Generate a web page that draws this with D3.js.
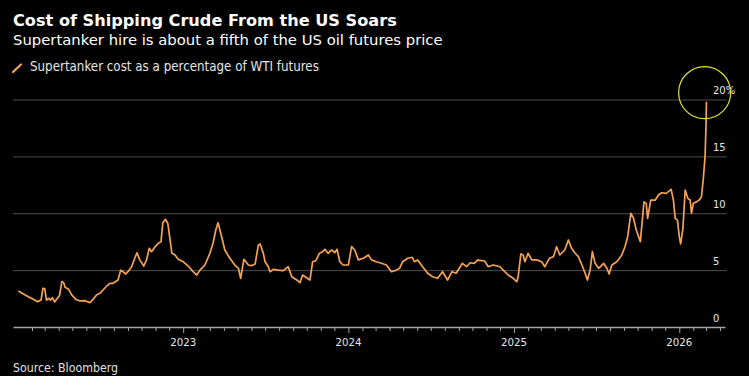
<!DOCTYPE html>
<html><head><meta charset="utf-8">
<script src="https://cdn.jsdelivr.net/npm/d3@7"></script>
<style>html,body{margin:0;padding:0;background:#000;overflow:hidden}</style>
</head><body>
<svg id="chart" width="749" height="376"></svg>
<script>
// ---- Data ----
const series2022 = [["2022-01-02",3.16],["2022-01-13",2.9],["2022-01-24",2.66],["2022-02-04",2.43],["2022-02-13",2.23],["2022-02-21",2.37],["2022-02-25",3.4],["2022-03-01",3.37],["2022-03-05",2.37],["2022-03-10",2.52],["2022-03-14",2.37],["2022-03-18",2.58],["2022-03-23",2.2],["2022-03-29",2.52],["2022-04-03",2.8],["2022-04-08",4.0],["2022-04-12",3.9],["2022-04-15",3.5],["2022-04-23",3.31],["2022-04-30",2.8],["2022-05-09",2.43],["2022-05-18",2.29],["2022-05-29",2.31],["2022-06-09",2.14],["2022-06-16",2.43],["2022-06-24",2.84],["2022-07-01",2.96],["2022-07-08",3.25],["2022-07-16",3.6],["2022-07-23",3.84],["2022-07-30",3.84],["2022-08-10",4.13],["2022-08-16",5.0],["2022-08-21",4.86],["2022-08-27",4.66],["2022-09-01",4.86],["2022-09-09",5.3],["2022-09-16",6.04],["2022-09-21",6.53],["2022-09-27",5.9],["2022-10-06",5.36],["2022-10-12",5.9],["2022-10-18",6.92],["2022-10-23",6.62],["2022-10-31",7.06],["2022-11-07",7.36],["2022-11-13",7.5],["2022-11-17",9.17],["2022-11-23",9.47],["2022-11-28",9.1],["2022-12-03",7.65],["2022-12-07",6.48],["2022-12-14",6.33],["2022-12-21",5.95]];
const series2023 = [["2023-01-01",5.74],["2023-01-12",5.36],["2023-01-23",4.86],["2023-01-31",4.57],["2023-02-07",5.0],["2023-02-18",5.45],["2023-03-01",6.48],["2023-03-08",7.36],["2023-03-14",8.53],["2023-03-19",9.17],["2023-03-27",7.94],["2023-04-03",6.77],["2023-04-14",6.04],["2023-04-25",5.45],["2023-05-03",5.16],["2023-05-08",4.28],["2023-05-15",5.95],["2023-05-25",5.45],["2023-06-01",5.39],["2023-06-09",5.54],["2023-06-16",7.2],["2023-06-20",7.3],["2023-06-27",6.48],["2023-07-01",5.74],["2023-07-08",5.3],["2023-07-12",4.86],["2023-07-19",5.07],["2023-07-30",5.0],["2023-08-10",4.95],["2023-08-21",5.3],["2023-08-29",4.42],["2023-09-09",4.13],["2023-09-16",3.9],["2023-09-22",4.57],["2023-09-29",4.37],["2023-10-08",4.13],["2023-10-14",5.74],["2023-10-21",5.83],["2023-10-29",6.48],["2023-11-05",6.62],["2023-11-10",6.83],["2023-11-17",6.48],["2023-11-25",6.77],["2023-12-02",6.53],["2023-12-07",6.83],["2023-12-13",5.74],["2023-12-20",5.45]];
const series2024 = [["2024-01-01",5.45],["2024-01-08",7.06],["2024-01-15",6.77],["2024-01-23",5.9],["2024-02-03",6.04],["2024-02-14",6.33],["2024-02-21",5.9],["2024-03-03",5.74],["2024-03-14",5.6],["2024-03-25",5.45],["2024-04-05",4.86],["2024-04-16",5.0],["2024-04-23",5.16],["2024-04-30",5.74],["2024-05-11",6.04],["2024-05-21",6.13],["2024-05-26",5.74],["2024-06-02",5.9],["2024-06-13",5.3],["2024-06-24",4.72],["2024-07-05",4.42],["2024-07-16",4.28],["2024-07-27",4.86],["2024-08-07",4.13],["2024-08-17",4.86],["2024-08-26",4.72],["2024-09-02",5.16],["2024-09-09",5.6],["2024-09-18",5.3],["2024-09-26",5.65],["2024-10-05",5.6],["2024-10-13",5.9],["2024-10-17",5.85],["2024-10-28",5.8],["2024-11-05",5.3],["2024-11-16",5.45],["2024-12-01",5.3],["2024-12-08",5.0],["2024-12-19",4.57],["2024-12-30",4.28]];
const series2025 = [["2025-01-07",3.98],["2025-01-10",4.42],["2025-01-16",6.42],["2025-01-21",6.33],["2025-01-25",5.74],["2025-02-01",6.48],["2025-02-09",5.9],["2025-02-20",5.9],["2025-03-03",5.74],["2025-03-10",5.3],["2025-03-20",6.04],["2025-03-29",6.18],["2025-04-05",7.06],["2025-04-12",6.33],["2025-04-23",6.77],["2025-05-01",7.65],["2025-05-08",6.92],["2025-05-16",6.48],["2025-05-23",6.18],["2025-05-31",5.45],["2025-06-07",4.72],["2025-06-12",4.13],["2025-06-18",5.0],["2025-06-23",6.62],["2025-06-29",5.6],["2025-07-07",5.16],["2025-07-18",5.6],["2025-07-25",5.16],["2025-07-30",4.66],["2025-08-05",5.45],["2025-08-16",5.74],["2025-08-27",6.33],["2025-09-03",7.06],["2025-09-09",7.94],["2025-09-16",10.0],["2025-09-22",9.55],["2025-09-28",8.53],["2025-10-07",7.5],["2025-10-10",8.82],["2025-10-15",11.0],["2025-10-20",10.87],["2025-10-23",9.55],["2025-10-30",11.16],["2025-11-09",11.16],["2025-11-16",11.6],["2025-11-23",11.8],["2025-12-03",11.75],["2025-12-08",11.9],["2025-12-14",12.1],["2025-12-19",11.16],["2025-12-23",9.55],["2025-12-28",9.4]];
const series2026 = [["2026-01-01",7.94],["2026-01-04",7.3],["2026-01-09",8.68],["2026-01-14",12.04],["2026-01-20",11.3],["2026-01-25",11.16],["2026-01-28",10.0],["2026-02-01",10.87],["2026-02-08",11.0],["2026-02-14",11.16],["2026-02-19",11.45],["2026-02-23",13.0],["2026-02-27",15.0],["2026-03-01",17.6],["2026-03-02",19.8]];

const yTicks = [0, 5, 10, 15, 20];
const yTickLabels = ["0", "5", "10", "15", "20%"];
const yearTicks = ["2023-01-01", "2024-01-01", "2025-01-01", "2026-01-01"];
const yearLabels = ["2023", "2024", "2025", "2026"];
const xDomain = ["2021-12-21", "2026-04-12"];
const highlight = ["2026-02-26", 20.6];

const titleText = "Cost of Shipping Crude From the US Soars";
const subtitleText = "Supertanker hire is about a fifth of the US oil futures price";
const legendText = "Supertanker cost as a percentage of WTI futures";
const sourceText = "Source: Bloomberg";

// ---- Build ----
const parse = d3.timeParse("%Y-%m-%d");
const data = [].concat(series2022, series2023, series2024, series2025, series2026)
  .map(([d, v]) => ({date: parse(d), value: v}));

const svg = d3.select("#chart");
svg.append("rect").attr("width", 749).attr("height", 376).attr("fill", "#000");

const x = d3.scaleTime().domain(xDomain.map(parse)).range([13, 725]);
const y = d3.scaleLinear().domain([0, 20]).range([327, 99.5]);

const LINE = "#f5a256";
const FONT = "'DejaVu Sans', Verdana, sans-serif";
const CFONT = "'DejaVu Sans Condensed', 'DejaVu Sans', sans-serif";

function fit(sel, target) {
  const w = sel.node().getComputedTextLength();
  const fs = parseFloat(sel.attr("font-size"));
  const nfs = fs * target / w;
  sel.attr("font-size", nfs);
  return nfs / fs;
}

// gridlines
const grid = svg.append("g").attr("transform", "translate(13,0)")
  .call(d3.axisLeft(y).tickValues(yTicks.filter(t => t > 0)).tickSize(-714).tickFormat(""));
grid.select(".domain").remove();
grid.selectAll(".tick line").attr("stroke", "#4d4d4d").attr("stroke-width", 1);

// y labels
const yl = svg.append("g").selectAll("text").data(yTicks).join("text")
  .attr("x", 713).attr("y", d => y(d) - 5.5)
  .attr("fill", "#e6e6e6").attr("font-family", CFONT).attr("font-size", 13)
  .text((d, i) => yTickLabels[i]);
const yk = fit(yl.filter(d => d === 15), 12.7);
yl.filter(d => d !== 15).attr("font-size", 13 * yk);

// x axis
const monthTicks = d3.timeMonth.range(parse("2022-02-01"), x.domain()[1]);
const xa = svg.append("g").attr("transform", "translate(0,327)")
  .call(d3.axisBottom(x).tickValues(monthTicks).tickSize(4).tickSizeOuter(0).tickFormat(""));
xa.select(".domain").attr("stroke", "#a6a6a6").attr("stroke-width", 1.3);
xa.selectAll(".tick line").attr("stroke", "#a6a6a6")
  .attr("y2", d => d.getMonth() === 0 ? 6 : 4);

const yr = svg.append("g").selectAll("text").data(yearTicks).join("text")
  .attr("x", d => x(parse(d))).attr("y", 346).attr("text-anchor", "middle")
  .attr("fill", "#e6e6e6").attr("font-family", CFONT).attr("font-size", 13)
  .text((d, i) => yearLabels[i]);
const xk = fit(d3.select(yr.nodes()[0]), 26);
yr.attr("font-size", 13 * xk);

// line
svg.append("path").datum(data)
  .attr("fill", "none").attr("stroke", LINE).attr("stroke-width", 1.7)
  .attr("stroke-linejoin", "round")
  .attr("d", d3.line().x(d => x(d.date)).y(d => y(d.value)));

// highlight circle
svg.append("circle")
  .attr("cx", x(parse(highlight[0]))).attr("cy", y(highlight[1])).attr("r", 26)
  .attr("fill", "none").attr("stroke", "#e3e33a").attr("stroke-width", 1.2);

// titles
const t = svg.append("text").attr("x", 13).attr("y", 26)
  .attr("fill", "#fff").attr("font-family", FONT).attr("font-weight", "bold")
  .attr("font-size", 16).text(titleText);
fit(t, 384);
const st = svg.append("text").attr("x", 13).attr("y", 45)
  .attr("fill", "#fff").attr("font-family", FONT).attr("font-size", 15).text(subtitleText);
fit(st, 430);

// legend
svg.append("line").attr("x1", 13).attr("y1", 72).attr("x2", 21).attr("y2", 64.5)
  .attr("stroke", LINE).attr("stroke-width", 2.2).attr("stroke-linecap", "round");
const lt = svg.append("text").attr("x", 30).attr("y", 71)
  .attr("fill", "#e6e6e6").attr("font-family", CFONT).attr("font-size", 13).text(legendText);
fit(lt, 289);

// source
const so = svg.append("text").attr("x", 13).attr("y", 372)
  .attr("fill", "#e0e0e0").attr("font-family", CFONT).attr("font-size", 12).text(sourceText);
fit(so, 105);
</script>
</body></html>
